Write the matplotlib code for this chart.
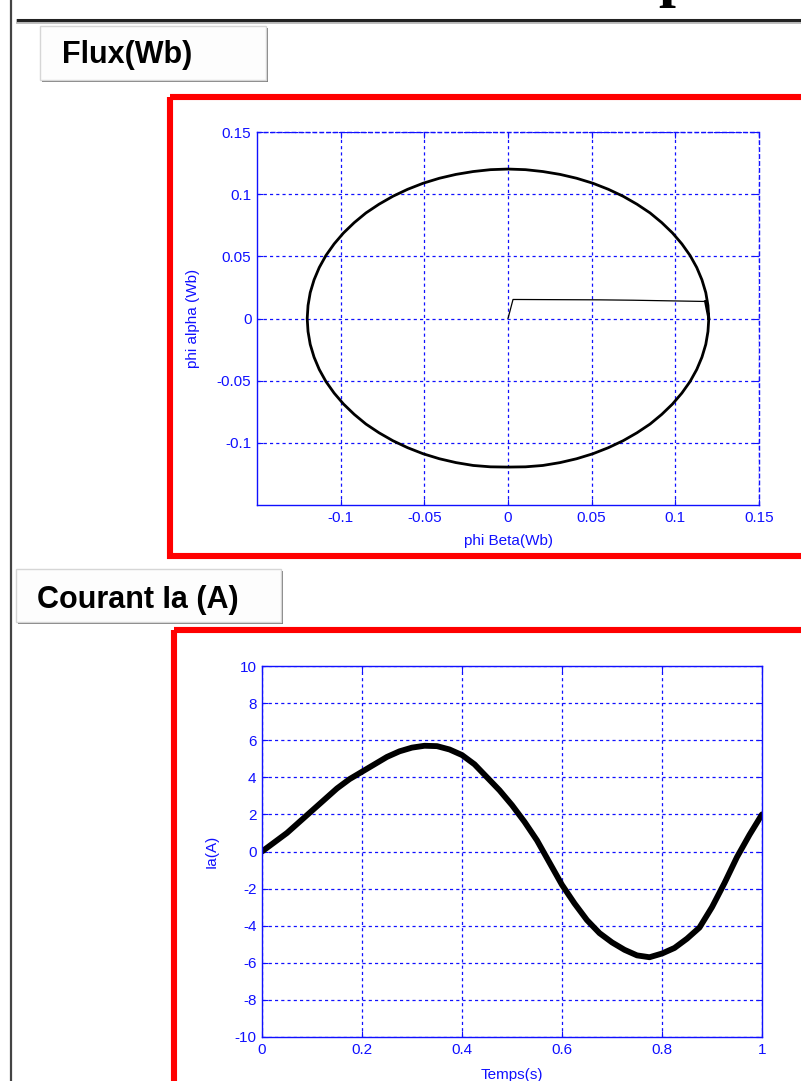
import matplotlib
matplotlib.use("Agg")
import matplotlib.pyplot as plt
from matplotlib.patches import Rectangle

plt.rcParams["font.family"] = ["Liberation Sans", "DejaVu Sans"]
plt.rcParams["axes.unicode_minus"] = False

# --- flux trajectory: start-up transient then steady circle (Wb)
phi_beta = [0.0, 0.003, 0.055, 0.075, 0.118,
            0.1200, 0.1195, 0.1182, 0.1159, 0.1128, 0.1088, 0.1039, 0.0983, 0.0919,
            0.0849, 0.0771, 0.0688, 0.0600, 0.0507, 0.0410, 0.0311, 0.0208, 0.0105,
            0.0000, -0.0105, -0.0208, -0.0311, -0.0410, -0.0507, -0.0600, -0.0688, -0.0771,
            -0.0849, -0.0919, -0.0983, -0.1039, -0.1088, -0.1128, -0.1159, -0.1182, -0.1195,
            -0.1200, -0.1195, -0.1182, -0.1159, -0.1128, -0.1088, -0.1039, -0.0983, -0.0919,
            -0.0849, -0.0771, -0.0688, -0.0600, -0.0507, -0.0410, -0.0311, -0.0208, -0.0105,
            0.0000, 0.0105, 0.0208, 0.0311, 0.0410, 0.0507, 0.0600, 0.0688, 0.0771,
            0.0849, 0.0919, 0.0983, 0.1039, 0.1088, 0.1128, 0.1159, 0.1182, 0.1195, 0.1200]
phi_alpha = [0.0, 0.0153, 0.0150, 0.0147, 0.0137,
             0.0000, -0.0105, -0.0208, -0.0311, -0.0410, -0.0507, -0.0600, -0.0688, -0.0771,
             -0.0849, -0.0919, -0.0983, -0.1039, -0.1088, -0.1128, -0.1159, -0.1182, -0.1193,
             -0.1195, -0.1193, -0.1182, -0.1159, -0.1128, -0.1088, -0.1039, -0.0983, -0.0919,
             -0.0849, -0.0771, -0.0688, -0.0600, -0.0507, -0.0410, -0.0311, -0.0208, -0.0105,
             0.0000, 0.0105, 0.0208, 0.0311, 0.0410, 0.0507, 0.0600, 0.0688, 0.0771,
             0.0849, 0.0919, 0.0983, 0.1039, 0.1088, 0.1128, 0.1159, 0.1182, 0.1197,
             0.1202, 0.1197, 0.1182, 0.1159, 0.1128, 0.1088, 0.1039, 0.0983, 0.0919,
             0.0849, 0.0771, 0.0688, 0.0600, 0.0507, 0.0410, 0.0311, 0.0208, 0.0105, 0.0000]

flux_ticks = [-0.1, -0.05, 0, 0.05, 0.1, 0.15]
flux_labels = ["-0.1", "-0.05", "0", "0.05", "0.1", "0.15"]

# --- phase current Ia (A) vs time (s)
temps = [0.0, 0.025, 0.05, 0.075, 0.1, 0.125, 0.15, 0.175, 0.2, 0.225, 0.25, 0.275,
         0.3, 0.325, 0.35, 0.375, 0.4, 0.425, 0.45, 0.475, 0.5, 0.525, 0.55, 0.575,
         0.6, 0.625, 0.65, 0.675, 0.7, 0.725, 0.75, 0.775, 0.8, 0.825, 0.85, 0.875,
         0.9, 0.925, 0.95, 0.975, 1.0]
ia = [0.0, 0.5, 1.0, 1.6, 2.2, 2.8, 3.4, 3.9, 4.3, 4.7, 5.1, 5.4,
      5.6, 5.7, 5.68, 5.5, 5.2, 4.7, 4.0, 3.3, 2.5, 1.6, 0.6, -0.6,
      -1.8, -2.8, -3.7, -4.4, -4.9, -5.3, -5.6, -5.7, -5.5, -5.2, -4.7, -4.1,
      -3.0, -1.7, -0.3, 0.9, 2.0]
spike_t = [0.0, 0.0]
spike_ia = [-10.0, 0.0]

time_ticks = [0, 0.2, 0.4, 0.6, 0.8, 1]
time_labels = ["0", "0.2", "0.4", "0.6", "0.8", "1"]
ia_ticks = [-10, -8, -6, -4, -2, 0, 2, 4, 6, 8, 10]

W, H = 801, 1081
BLUE = "#1010ff"

fig = plt.figure(figsize=(W / 100, H / 100), dpi=100)

# page decoration drawn in pixel coordinates
bg = fig.add_axes([0, 0, 1, 1])
bg.set_xlim(0, W)
bg.set_ylim(H, 0)
bg.axis("off")

bg.plot([11, 11], [0, H], color="#444444", lw=1.6)
bg.plot([18, W], [21, 21], color="#bbbbbb", lw=3.5)
bg.plot([18, W], [20, 20], color="#222222", lw=2.2)
bg.text(675, 8, "p", family="Liberation Serif", fontweight="bold",
        fontsize=44, ha="center", va="bottom")


def draw_tab(x0, y0, x1, y1, label, tx, ty):
    bg.add_patch(Rectangle((x0 + 2, y0 + 2), x1 - x0, y1 - y0,
                           facecolor="#808080", edgecolor="none"))
    bg.add_patch(Rectangle((x0, y0), x1 - x0, y1 - y0,
                           facecolor="#fdfdfd", edgecolor="#d6d6d6", lw=1))
    bg.text(tx, ty, label, fontsize=22, fontweight="bold",
            ha="left", va="center")


draw_tab(40, 26, 266, 80, "Flux(Wb)", 62, 55)
draw_tab(16, 569, 281, 622, "Courant Ia (A)", 37, 600)

bg.add_patch(Rectangle((170, 97), 700, 459, fill=False, edgecolor="red", lw=4.4))
bg.add_patch(Rectangle((174, 630), 700, 500, fill=False, edgecolor="red", lw=4.4))


def style_axes(ax):
    ax.grid(True, color=BLUE, linestyle=(0, (2.5, 2.5)), lw=0.9)
    ax.tick_params(colors=BLUE, labelsize=11, direction="in", length=4, pad=4,
                   top=True, right=True)
    for sp in ax.spines.values():
        sp.set_color(BLUE)
        sp.set_linewidth(1.0)


# flux plot
ax1 = fig.add_axes([257 / W, 1 - 505 / H, 502 / W, 373 / H])
ax1.plot(phi_beta[:5], phi_alpha[:5], color="black", lw=0.9)
ax1.plot(phi_beta[4:], phi_alpha[4:], color="black", lw=2.0)
ax1.set_xlim(-0.15, 0.15)
ax1.set_ylim(-0.15, 0.15)
ax1.set_xticks(flux_ticks)
ax1.set_xticklabels(flux_labels)
ax1.set_yticks(flux_ticks)
ax1.set_yticklabels(flux_labels)
style_axes(ax1)
ax1.spines["top"].set_linestyle((0, (2.5, 2.5)))
ax1.spines["right"].set_linestyle((0, (2.5, 2.5)))
ax1.set_xlabel("phi Beta(Wb)", color=BLUE, fontsize=11, va="center")
ax1.xaxis.set_label_coords(0.5, -36 / 373)
ax1.set_ylabel("phi alpha (Wb)", color=BLUE, fontsize=11, va="center")
ax1.yaxis.set_label_coords(-64 / 502, 0.5)

# current plot
ax2 = fig.add_axes([262 / W, 1 - 1037 / H, 500 / W, 371 / H])
ax2.plot(spike_t, spike_ia, color="#222255", lw=1.4)
ax2.plot(temps, ia, color="black", lw=4.2, solid_capstyle="round",
         solid_joinstyle="round")
ax2.set_xlim(0, 1)
ax2.set_ylim(-10, 10)
ax2.set_xticks(time_ticks)
ax2.set_xticklabels(time_labels)
ax2.set_yticks(ia_ticks)
style_axes(ax2)
ax2.set_xlabel("Temps(s)", color=BLUE, fontsize=11, va="center")
ax2.xaxis.set_label_coords(0.5, -38 / 371)
ax2.set_ylabel("Ia(A)", color=BLUE, fontsize=11, va="center")
ax2.yaxis.set_label_coords(-50 / 500, 0.5)

fig.savefig("out.png", dpi=100)
